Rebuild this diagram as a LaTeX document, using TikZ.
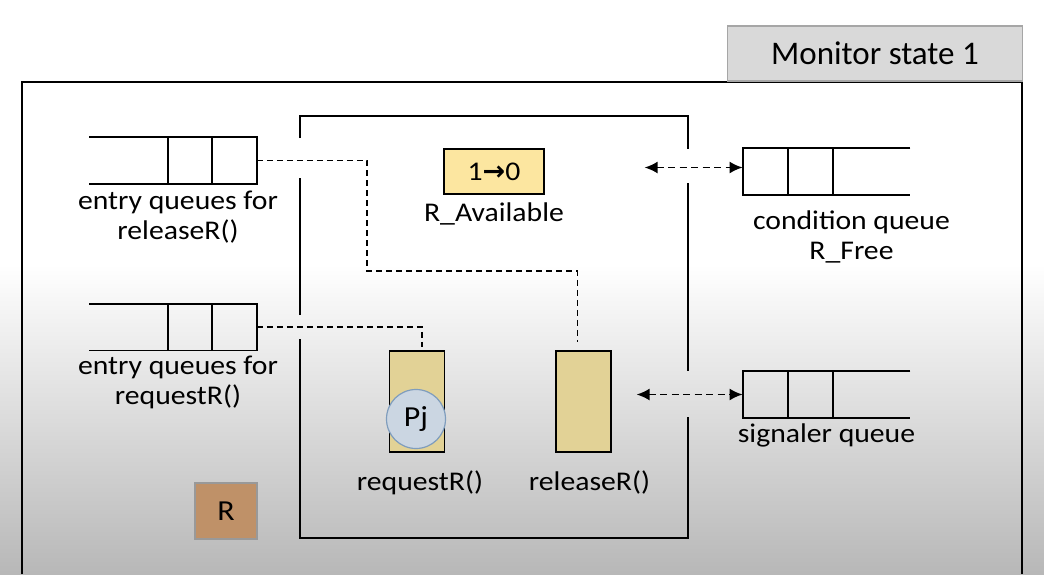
\documentclass[tikz,border=0pt]{standalone}
\usepackage{fontspec}
\setmainfont{Carlito}
\newfontfamily\lblfam[FakeStretch=1.1]{Carlito}
\newfontfamily\arrowfont{DejaVu Sans}
\usetikzlibrary{arrows.meta}
\definecolor{titlefill}{HTML}{D9D9D9}
\definecolor{availfill}{HTML}{FCE6A0}
\definecolor{methfill}{HTML}{E2D296}
\definecolor{pjfill}{HTML}{CBD6E2}
\definecolor{pjline}{HTML}{7F9DBD}
\definecolor{rfill}{HTML}{BF9168}
\def\lblfont{\lblfam\fontsize{27}{30}\selectfont}
\def\entryq(#1)#2{\node[queue] (#2) at (#1) {};
  \draw (#2.north west) -- (#2.north east) -- (#2.south east) -- (#2.south west)
        ([xshift=-45]#2.north east) -- ([xshift=-45]#2.south east)
        ([xshift=-89]#2.north east) -- ([xshift=-89]#2.south east);}
\def\waitq(#1)#2{\node[queue] (#2) at (#1) {};
  \draw (#2.north east) -- (#2.north west) -- (#2.south west) -- (#2.south east)
        ([xshift=45]#2.north west) -- ([xshift=45]#2.south west)
        ([xshift=90]#2.north west) -- ([xshift=90]#2.south west);}
\def\dsh{\draw[dashline]}

\begin{document}
\begin{tikzpicture}[x=1pt,y=-1pt,line width=1.8pt,
    queue/.style={minimum width=166pt,minimum height=45pt,inner sep=0pt},
    lbl/.style={font=\lblfont,align=center,inner sep=0pt,anchor=base},
    method/.style={draw,fill=methfill,minimum width=55pt,minimum height=101pt,inner sep=0pt},
    dashline/.style={dash pattern=on 6pt off 4pt},
    darrow/.style={dash pattern=on 7pt off 4.5pt,{Latex[length=13pt,width=12pt]}-{Latex[length=13pt,width=12pt]}}]
  \useasboundingbox (0,0) rectangle (1044,574);
  \fill[white] (0,0) rectangle (1044,265);
  \shade[top color=white,bottom color=black!28] (0,264) rectangle (1044,574);

  \draw (22,574) -- (22,82) -- (1022,82) -- (1022,574);
  \node[draw=black!35,line width=1.2pt,fill=titlefill,minimum width=295pt,minimum height=55pt,
        font=\fontsize{33}{40}\selectfont] (title) at (875,53.5) {Monitor state 1};

  \draw (300,138) -- (300,116) -- (688,116) -- (688,149)
        (688,183) -- (688,371) (688,417) -- (688,538) -- (300,538) -- (300,339)
        (300,315) -- (300,178);

  \entryq(173,160.5){eqrel}
  \entryq(173,327){eqreq}
  \waitq(826.5,171.5){condq}
  \waitq(826.5,394.5){sigq}

  \node[draw,fill=availfill,minimum width=100pt,minimum height=45pt,font=\lblfont] (avail) at (494,171.5)
       {1{\arrowfont\bfseries\fontsize{27}{30}\selectfont→}0};
  \node[method] (reqbox) at (417,401.5) {};
  \node[method] (relbox) at (583.5,401.5) {};
  \node[circle,draw=pjline,fill=pjfill,line width=1.2pt,minimum size=59pt,inner sep=0pt,
        font=\lblfam\fontsize{29}{30}\selectfont] (pj) at (416,419) {Pj};
  \node[draw=black!40,line width=1.2pt,fill=rfill,minimum width=62pt,minimum height=56pt,
        font=\lblfam\fontsize{29}{30}\selectfont] (res) at (226,511) {R};

  \node[lbl] (eqrellbl) at ([xshift=5pt,yshift=-56pt]eqrel.south) {entry queues for\\releaseR()};
  \node[lbl] (eqreqlbl) at ([xshift=5pt,yshift=-54pt]eqreq.south) {entry queues for\\requestR()};
  \node[lbl] (availlbl) at ([yshift=-27pt]avail.south) {R\_Available};
  \node[lbl] (condlbl) at ([xshift=25pt,yshift=-65pt]condq.south) {condition queue\\R\_Free};
  \node[lbl] (siglbl) at ([yshift=-25pt]sigq.south) {signaler queue};
  \node[lbl] (reqlbl) at ([xshift=3pt,yshift=-38pt]reqbox.south) {requestR()};
  \node[lbl] (rellbl) at ([xshift=6pt,yshift=-38pt]relbox.south) {releaseR()};

  \coordinate (bend) at (367,271);
  \coordinate (condat) at ([yshift=4pt]condq.west);
  \coordinate (condin) at ([xshift=-98pt]condat);
  \coordinate (sigin) at ([xshift=-106pt]sigq.west);
  \dsh[shorten >=8pt] (eqrel.east) -| (bend) -| ([xshift=-6pt]relbox.north);
  \dsh[shorten >=3pt] (eqreq.east) -| ([xshift=5pt]reqbox.north);
  \draw[darrow] (condin) -- (condat);
  \draw[darrow] (sigin) -- (sigq.west);
\end{tikzpicture}
\end{document}
